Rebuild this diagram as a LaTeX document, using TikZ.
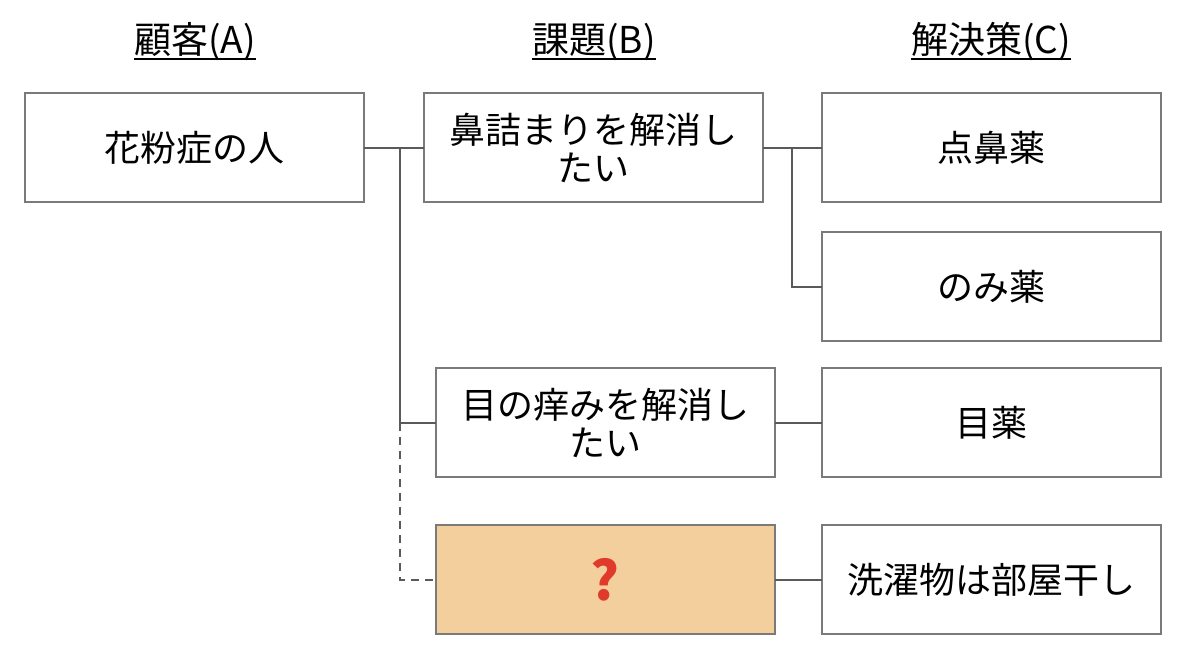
\documentclass[tikz,border=0pt]{standalone}
\usepackage{fontspec}
\setmainfont{Noto Sans CJK JP}
\definecolor{boxline}{HTML}{7A7A7A}
\definecolor{connline}{HTML}{5A5A5A}
\definecolor{orangefill}{HTML}{F3CF9E}
\definecolor{qred}{HTML}{E03B2A}
\newcommand{\hdrline}[1]{\setbox0\hbox{#1}\rlap{\rule[-3.2pt]{\wd0}{1.1pt}}#1}
\begin{document}
\begin{tikzpicture}[x=0.5pt,y=-0.5pt,
  box/.style={draw=boxline,line width=1pt,fill=white,minimum width=169.5pt,minimum height=54.5pt,inner sep=0pt,outer sep=0pt,align=center,font=\fontsize{18}{19}\selectfont},
  hdr/.style={font=\fontsize{18.5}{20}\selectfont,inner sep=0pt},
  conn/.style={draw=connline,line width=1pt},
  dconn/.style={conn,dash pattern=on 4pt off 3pt}]
\useasboundingbox (0,0) rectangle (1184,666);
\node[hdr] (hA) at (195,42) {\hdrline{顧客(A)}};
\node[hdr] (hB) at (594,42) {\hdrline{課題(B)}};
\node[hdr] (hC) at (991,42) {\hdrline{解決策(C)}};
\node[box] (A) at (194.5,147.5) {花粉症の人};
\node[box] (B1) at (593.5,147.5) {鼻詰まりを解消し\\たい};
\node[box] (C1) at (991.5,147.5) {点鼻薬};
\node[box] (C2) at (991.5,286.5) {のみ薬};
\node[box] (B2) at (605,422.5) {目の痒みを解消し\\たい};
\node[box] (C3) at (991.5,422.5) {目薬};
\node[box,fill=orangefill] (B3) at (605,579.5) {\textcolor{qred}{\fontsize{27}{28}\selectfont\bfseries ?}};
\node[box] (C4) at (991.5,579.5) {洗濯物は部屋干し};
\coordinate (j1) at (400,147.5);
\coordinate (j2) at (400,422.5);
\coordinate (j3) at (792,147.5);
\draw[conn] (A.east) -- (B1.west);
\draw[conn] (j1) |- (B2.west);
\draw[dconn] (j2) |- (B3.west);
\draw[conn] (B1.east) -- (C1.west);
\draw[conn] (j3) |- (C2.west);
\draw[conn] (B2.east) -- (C3.west);
\draw[conn] (B3.east) -- (C4.west);
\end{tikzpicture}
\end{document}
